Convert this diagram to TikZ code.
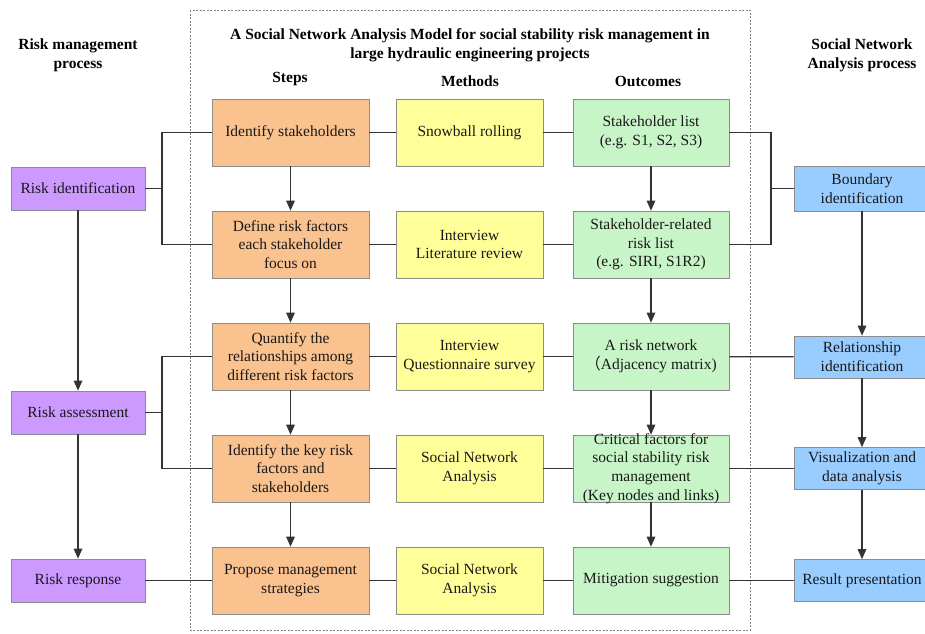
\documentclass[tikz,border=0pt]{standalone}
\usepackage{fontspec}
\setmainfont{Liberation Serif}
\newfontfamily\cjk{Noto Sans CJK SC}
\usepackage{xcolor}
\usepackage{tikz}
\usetikzlibrary{arrows.meta,positioning}

\definecolor{stepcol}{HTML}{FAC28F}
\definecolor{methcol}{HTML}{FFFF99}
\definecolor{outcol}{HTML}{C8F5C8}
\definecolor{rmcol}{HTML}{CC99FF}
\definecolor{snacol}{HTML}{99CCFF}

\begin{document}
\begin{tikzpicture}[x=1pt,y=-1pt,
      font=\fontsize{15.5}{18.7}\selectfont,
      box/.style={draw=black!45, line width=0.7pt, align=center, inner sep=2pt, text=black!90},
      stepbox/.style={box, fill=stepcol, minimum width=157pt, minimum height=67pt},
      methbox/.style={box, fill=methcol, minimum width=147pt, minimum height=67pt},
      outbox/.style={box, fill=outcol, minimum width=156pt, minimum height=67pt},
      rmbox/.style={box, fill=rmcol, minimum width=134pt, minimum height=43pt},
      snabox/.style={box, fill=snacol, minimum width=136pt, minimum height=42pt},
      head/.style={font=\fontsize{15.5}{19}\selectfont\bfseries, align=center},
      link/.style={line width=1.2pt, black!80},
      flow/.style={link, -{Triangle[width=8.5pt,length=10pt]}}]
      \useasboundingbox (0,0) rectangle (925,633);

      % frame of the model
      \draw[black!50, line width=0.6pt, dash pattern=on 2pt off 1.5pt] (190,10) rectangle (750,630);

      % headings
      \node[head] (rmhead) at (78,55) {Risk management\\process};
      \node[head] (snahead) at (862,55) {Social Network\\Analysis process};
      \node[head] (title) at (470,45) {A Social Network Analysis Model for social stability risk management in\\large hydraulic engineering projects};
      \node[head] (steps) at (290,79) {Steps};
      \node[head] (methods) at (470,81) {Methods};
      \node[head] (outcomes) at (648,81) {Outcomes};

      % steps
      \node[stepbox] (step1) at (290.5,132.5) {Identify stakeholders};
      \node[stepbox] (step2) at (290.5,244.5) {Define risk factors\\each stakeholder\\focus on};
      \node[stepbox] (step3) at (290.5,356.5) {Quantify the\\relationships among\\different risk factors};
      \node[stepbox] (step4) at (290.5,468.5) {Identify the key risk\\factors and\\stakeholders};
      \node[stepbox] (step5) at (290.5,580.5) {Propose management\\strategies};

      % methods
      \node[methbox] (meth1) at (469.5,132.5) {Snowball rolling};
      \node[methbox] (meth2) at (469.5,244.5) {Interview\\Literature review};
      \node[methbox] (meth3) at (469.5,356.5) {Interview\\Questionnaire survey};
      \node[methbox] (meth4) at (469.5,468.5) {Social Network\\Analysis};
      \node[methbox] (meth5) at (469.5,580.5) {Social Network\\Analysis};

      % outcomes
      \node[outbox] (out1) at (651,132.5) {Stakeholder list\\(e.g. S1, S2, S3)};
      \node[outbox] (out2) at (651,244.5) {Stakeholder-related\\risk list\\(e.g. SIRI, S1R2)};
      \node[outbox] (out3) at (651,356.5) {A risk network\\{\cjk （}Adjacency matrix)};
      \node[outbox, inner ysep=-2pt] (out4) at (651,468.5) {Critical factors for\\social stability risk\\management\\(Key nodes and links)};
      \node[outbox] (out5) at (651,580.5) {Mitigation suggestion};

      % risk management process
      \node[rmbox] (rident) at (78,188.5) {Risk identification};
      \node[rmbox] (rassess) at (78,412.5) {Risk assessment};
      \node[rmbox] (rresp) at (78,580.5) {Risk response};

      % SNA process
      \node[snabox, minimum height=45pt] (bound) at (862,188.5) {Boundary\\identification};
      \node[snabox] (relat) at (862,357) {Relationship\\identification};
      \node[snabox] (visual) at (862,468.5) {Visualization and\\data analysis};
      \node[snabox] (result) at (862,580.5) {Result presentation};

      % rows
      \foreach \i in {1,...,5} {
        \draw[link] (step\i) -- (meth\i);
        \draw[link] (meth\i) -- (out\i);
      }
      \foreach \i/\j in {1/2,2/3,3/4,4/5} {
        \draw[flow] (step\i) -- (step\j);
        \draw[flow] (out\i) -- (out\j);
      }
      \draw[flow] (rident) -- (rassess);
      \draw[flow] (rassess) -- (rresp);
      \draw[flow] (bound) -- (relat);
      \draw[flow] (relat) -- (visual);
      \draw[flow] (visual) -- (result);

      % brackets
      \coordinate (lb1) at (162,188.5);
      \coordinate (lb2) at (162,412.5);
      \coordinate (rb1) at (771,188.5);
      \draw[link] (step1.west) -| (lb1) |- (step2.west);
      \draw[link] (rident) -- (lb1);
      \draw[link] (step3.west) -| (lb2) |- (step4.west);
      \draw[link] (rassess) -- (lb2);
      \draw[link] (rresp) -- (step5);
      \draw[link] (out1.east) -| (rb1) |- (out2.east);
      \draw[link] (rb1) -- (bound);
      \draw[link] (out3) -- (relat);
      \draw[link] (out4) -- (visual);
      \draw[link] (out5) -- (result);
    \end{tikzpicture}
\end{document}
